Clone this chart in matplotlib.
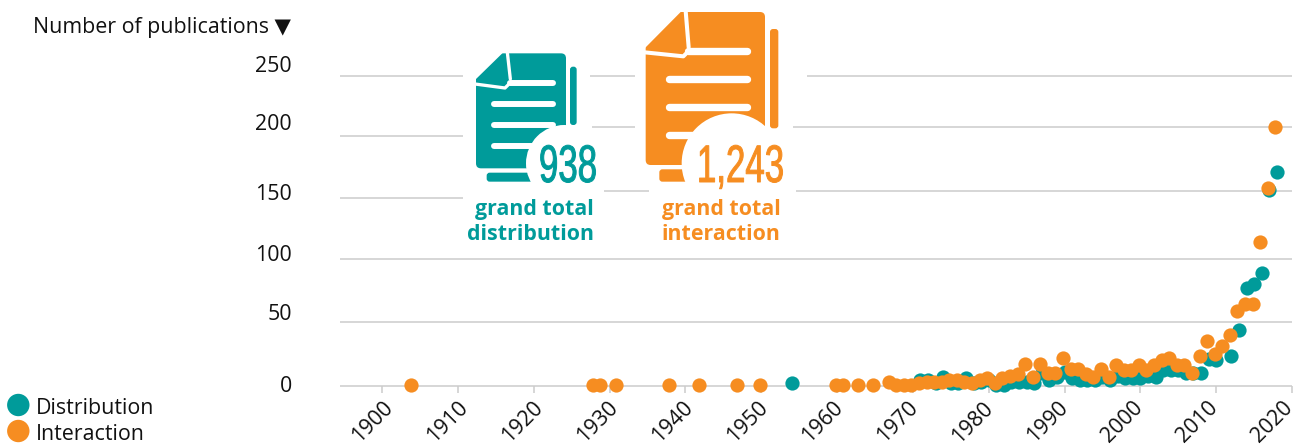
import matplotlib
matplotlib.use("Agg")
import matplotlib.pyplot as plt
from matplotlib.patches import Circle, Polygon, FancyBboxPatch
from matplotlib.patheffects import AbstractPathEffect
from matplotlib.transforms import Affine2D, ScaledTranslation

plt.rcParams['font.family'] = ['Open Sans', 'DejaVu Sans']

TEAL = '#009B9A'
ORANGE = '#F68D21'
GRID = '#CCCCCC'
TEXT = '#111111'
FS = 15.4

dist_years = [1954, 1971, 1972, 1973, 1974, 1975, 1976, 1977, 1978, 1979, 1980, 1981, 1982, 1983,
              1984, 1985, 1986, 1987, 1988, 1989, 1990, 1991, 1992, 1993, 1994, 1995, 1996, 1997,
              1998, 1999, 2000, 2001, 2002, 2003, 2004, 2005, 2006, 2007, 2008, 2009, 2010, 2012,
              2013, 2014, 2015, 2016, 2017, 2018]
dist_values = [2, 5, 5, 2, 7, 2, 2, 6, 2, 3, 5, 1, 1, 3,
               3, 3, 2, 10, 5, 7, 11, 6, 5, 5, 5, 7, 5, 8,
               6, 6, 6, 8, 7, 12, 12, 12, 10, 10, 10, 21, 20, 23,
               43, 76, 79, 87, 151, 165]

inter_years = [1904, 1928, 1929, 1931, 1938, 1942, 1947, 1950, 1960, 1961, 1963, 1965, 1967, 1968,
               1969, 1970, 1971, 1972, 1973, 1974, 1975, 1976, 1977, 1978, 1979, 1980, 1981, 1982,
               1983, 1984, 1985, 1986, 1987, 1988, 1989, 1990, 1991, 1992, 1993, 1994, 1995, 1996,
               1997, 1998, 1999, 2000, 2001, 2002, 2003, 2004, 2005, 2006, 2007, 2008, 2009, 2010,
               2011, 2012, 2013, 2014, 2015, 2016, 2017, 2018]
inter_values = [1, 1, 1, 1, 1, 1, 1, 1, 1, 1, 1, 1, 3, 1,
                1, 1, 2, 3, 3, 3, 5, 5, 3, 2, 5, 6, 2, 6,
                8, 9, 17, 7, 17, 10, 10, 22, 13, 13, 9, 7, 13, 7,
                16, 12, 12, 16, 12, 16, 20, 22, 16, 16, 10, 23, 35, 25,
                31, 39, 58, 63, 63, 111, 153, 200]

y_ticks = [0, 50, 100, 150, 200, 250]
x_ticks = list(range(1900, 2021, 10))

W, H = 1301, 445
fig = plt.figure(figsize=(W / 100, H / 100), dpi=100, facecolor='white')

PX_PER_UNIT = 1.295
PX_PER_YEAR = 7.583
top_val = 270
ax = fig.add_axes([340 / W, (H - 386) / H, (1292 - 340) / W, top_val * PX_PER_UNIT / H])
ax.set_xlim(1900 - 42 / PX_PER_YEAR, 2020)
ax.set_ylim(0, top_val)
ax.patch.set_alpha(0)
for s in ax.spines.values():
    s.set_visible(False)


def v(py):
    return (386 - py) / PX_PER_UNIT


def yr(px):
    return 1900 + (px - 382) / PX_PER_YEAR


grid_segments = [
    (386, 340, 1292), (321.5, 340, 1292), (259, 340, 1292),
    (197.5, 340, 463), (191, 604, 649), (191, 796, 1292),
    (136, 340, 463), (127, 592, 635), (127, 793, 1292),
    (75.5, 340, 463), (75.5, 590, 635), (75.5, 807, 1292),
]
for py, x0, x1 in grid_segments:
    ax.plot([yr(x0), yr(x1)], [v(py), v(py)], color=GRID, lw=1.1, zorder=1,
            solid_capstyle='butt', clip_on=False)

ax.set_xticks(x_ticks)
ax.set_xticklabels([])
ax.tick_params(axis='x', length=5.2, width=1.1, color=GRID)
ax.set_yticks([])

for t in x_ticks:
    ax.annotate(str(t), xy=(t, 0), xycoords=ax.get_xaxis_transform(),
                xytext=((-0.083 * (t - 1900) + 0.5) * 0.72, -11.5 * 0.72), textcoords='offset points',
                rotation=45, ha='right', va='top', rotation_mode='anchor', fontsize=FS, color=TEXT)

label_nudge_px = [-1, 7, 1, -3, 3, -4]
for t, n in zip(y_ticks, label_nudge_px):
    ax.annotate(str(t), xy=(0, t), xycoords=ax.get_yaxis_transform(),
                xytext=(-48 * 0.72, n * 0.72), textcoords='offset points',
                ha='right', va='center', fontsize=FS, color=TEXT)

shift = ScaledTranslation(-1.5 / 100, 0, fig.dpi_scale_trans)
ax.scatter(dist_years, dist_values, s=105, color=TEAL, linewidths=0, zorder=3, clip_on=False)
ax.scatter(inter_years, inter_values, s=105, color=ORANGE, linewidths=0, zorder=4, clip_on=False,
           transform=ax.transData + shift)

ov = fig.add_axes([0, 0, 1, 1], zorder=5)
ov.set_xlim(0, W)
ov.set_ylim(H, 0)
ov.axis('off')
ov.patch.set_alpha(0)

legend_entries = [('Distribution', TEAL, 405, 408), ('Interaction', ORANGE, 431, 434)]
for name, col, dot_y, text_y in legend_entries:
    ov.add_patch(Circle((18.3, dot_y), 11.2, fc=col, ec='none', clip_on=False))
    ov.text(36, text_y, name, fontsize=FS, color=TEXT, ha='left', va='center')

ov.text(33, 27, 'Number of publications ▼', fontsize=FS, color=TEXT, ha='left', va='center')


class SqueezeX(AbstractPathEffect):
    """Condense text horizontally about a display x position and thicken it a little."""
    def __init__(self, sx, cx, stroke=0.0):
        super().__init__()
        self.sx, self.cx, self.stroke = sx, cx, stroke

    def draw_path(self, renderer, gc, tpath, affine, rgbFace=None):
        a = affine + Affine2D().translate(-self.cx, 0).scale(self.sx, 1).translate(self.cx, 0)
        gc0 = renderer.new_gc()
        gc0.copy_properties(gc)
        gc0.set_foreground(rgbFace)
        gc0.set_linewidth(self.stroke)
        renderer.draw_path(gc0, tpath, a, rgbFace)
        gc0.restore()


def icon(col, x0, x1, y0, y1, fold_x, fold_y, back_x0, back_x1, back_y0, back_y1, bot_x0, bot_x1, bot_y1,
         bars, bar_x0, bar_x1, bar_lw, circ, ox=440):
    f = lambda p: (ox + p[0] / 3, p[1] / 3)
    for (a, b, c, d) in [(back_x0, back_x1, back_y0, back_y1), (bot_x0, bot_x1, y1 + 13, bot_y1)]:
        ov.add_patch(FancyBboxPatch(f((a, c)), (b - a) / 3, (d - c) / 3,
                                    boxstyle='round,pad=0,rounding_size=3', fc=col, ec='none', zorder=1))
    ov.add_patch(FancyBboxPatch(f((x0, y0)), (x1 - x0) / 3, (y1 - y0) / 3,
                                boxstyle='round,pad=0,rounding_size=5', fc=col, ec='none', zorder=2))
    ov.add_patch(Polygon([f((x0 - 3, y0 - 3)), f((fold_x, y0 - 3)), f((x0 - 3, fold_y))],
                         fc='white', ec='none', zorder=3))
    lw = bar_lw * 0.55
    ov.plot(*zip(f((fold_x + 12, y0 - 3)), f((fold_x + 21, fold_y - 3))), color='white', lw=lw, zorder=4,
            solid_capstyle='round')
    ov.plot(*zip(f((x0 - 3, fold_y + 12)), f((fold_x + 5, fold_y + 24)), f((fold_x + 21, fold_y + 8))),
            color='white', lw=lw, zorder=4, solid_capstyle='round')
    for by in bars:
        sx = bar_x0 if by != bars[0] else fold_x + 20
        ov.plot(*zip(f((sx, by)), f((bar_x1, by))), color='white', lw=bar_lw, zorder=4, solid_capstyle='round')
    cx, cy, r = circ
    ov.add_patch(Circle(f((cx, cy)), r / 3, fc='white', ec='none', zorder=5))


icon(TEAL, 108, 378, 160, 505, 190, 240, 390, 410, 200, 375, 140, 300, 545,
     [250, 313, 376, 439], 162, 338, 4.3, (373, 490, 115))
icon(ORANGE, 617, 975, 36, 495, 725, 145, 990, 1015, 87, 385, 658, 780, 545,
     [154, 238, 321, 405], 687, 920, 5.3, (875, 490, 150))

numfont = ['Liberation Sans Narrow', 'Liberation Sans', 'DejaVu Sans']
ov.text(568, 182, '938', fontsize=38, color=TEAL, family=numfont, ha='center', va='baseline',
        zorder=7, path_effects=[SqueezeX(0.66, 568, 0.7)])
ov.text(740.5, 182, '1,243', fontsize=38, color=ORANGE, family=numfont, ha='center',
        va='baseline', zorder=7, path_effects=[SqueezeX(0.66, 740.5, 0.7)])

ov.text(534, 209, 'grand total', fontsize=FS, fontweight='bold', color=TEAL, ha='center', va='center', zorder=7)
ov.text(531, 234, 'distribution', fontsize=FS, fontweight='bold', color=TEAL, ha='center', va='center', zorder=7)
ov.text(721, 209, 'grand total', fontsize=FS, fontweight='bold', color=ORANGE, ha='center', va='center', zorder=7)
ov.text(721, 234, 'interaction', fontsize=FS, fontweight='bold', color=ORANGE, ha='center', va='center', zorder=7)

fig.savefig('out.png', dpi=100, facecolor='white')
